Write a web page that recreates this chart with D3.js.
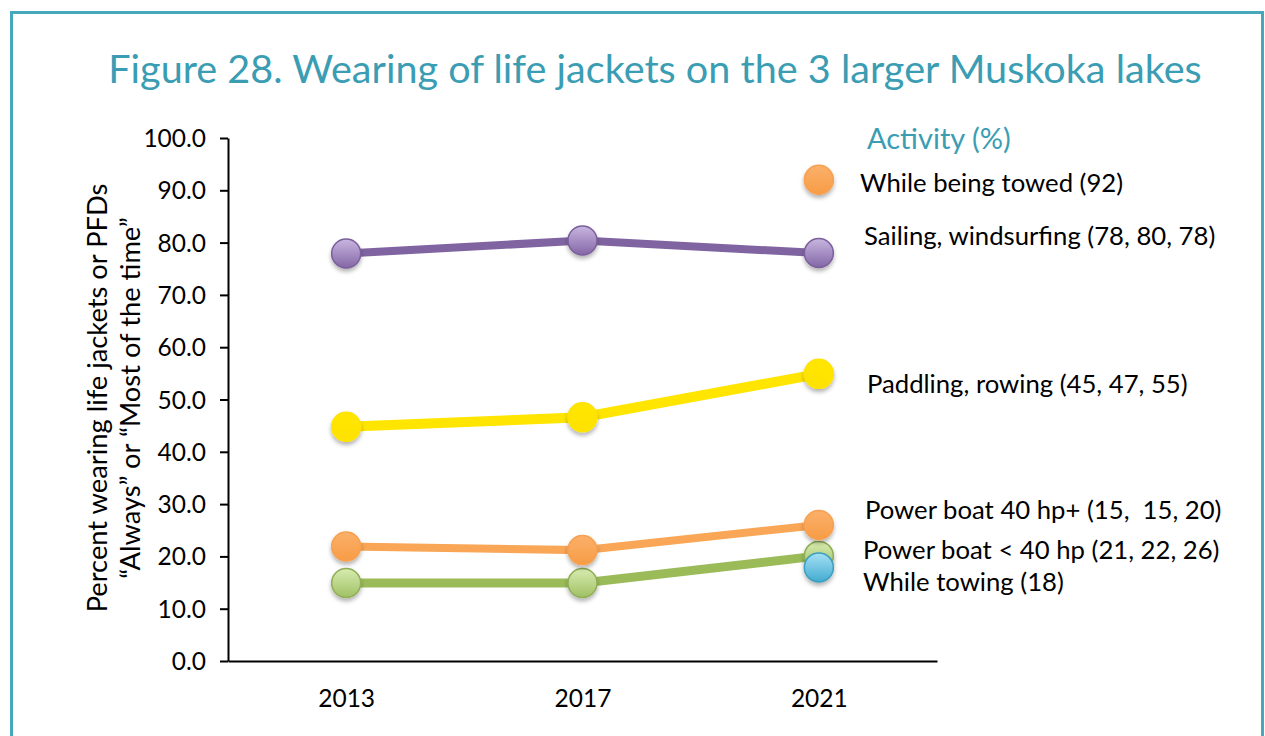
<!DOCTYPE html>
<html><head><meta charset="utf-8">
<script src="https://cdn.jsdelivr.net/npm/d3@7"></script>
<style>body{margin:0;background:#fff}svg{display:block}</style>
</head><body>
<svg id="c" width="1265" height="736"></svg>
<script>
const years = ["2013","2017","2021"];
const yTicks = [0,10,20,30,40,50,60,70,80,90,100];
const sailing = [77.9, 80.4, 78.0];
const paddling = [44.8, 46.6, 54.9];
const powerOrange = [21.9, 21.2, 26.0];
const powerGreen = [14.9, 14.9, 20.1];
const whileTowing = [null, null, 17.9];
const beingTowed = [null, null, 92];
const seriesNames = ["While being towed (92)","Sailing, windsurfing (78, 80, 78)","Paddling, rowing (45, 47, 55)","Power boat 40 hp+ (15,  15, 20)","Power boat < 40 hp (21, 22, 26)","While towing (18)"];

const svg = d3.select("#c");
const teal = "#3a9db3";
const font = "Lato, 'Open Sans', sans-serif";

// frame
svg.append("path").attr("d","M11.5,736 V12.5 H1262.5 V736").attr("fill","none").attr("stroke","#47a8bc").attr("stroke-width",3);

svg.append("text").attr("x",655).attr("y",83).attr("text-anchor","middle")
  .attr("font-family",font).attr("font-size",39.6).attr("fill",teal)
  .text("Figure 28. Wearing of life jackets on the 3 larger Muskoka lakes");

const x0 = 228, x1 = 937, yTop = 138, yBot = 661;
const x = d3.scalePoint().domain(years).range([x0,x1]).padding(0.5);
const y = d3.scaleLinear().domain([0,100]).range([yBot,yTop]);

const defs = svg.append("defs");
function grad(id, c1, c2){
  const g = defs.append("linearGradient").attr("id",id).attr("x1",0).attr("y1",0).attr("x2",0).attr("y2",1);
  g.append("stop").attr("offset","0%").attr("stop-color",c1);
  g.append("stop").attr("offset","100%").attr("stop-color",c2);
}
grad("gP","#c8b6e0","#8466a6");
grad("gY","#ffe600","#ffe200");
grad("gO","#fbb06a","#f79c46");
grad("gG","#d8ecb0","#9fc064");
grad("gB","#a6e0f5","#42acd0");
const f = defs.append("filter").attr("id","sh").attr("x","-50%").attr("y","-50%").attr("width","200%").attr("height","200%");
f.append("feDropShadow").attr("dx",0).attr("dy",3).attr("stdDeviation",2).attr("flood-color","#000").attr("flood-opacity",0.3);

// axes
const yAxis = d3.axisLeft(y).tickValues(yTicks).tickFormat(d3.format(".1f")).tickSize(8).tickSizeOuter(0);
const gy = svg.append("g").attr("transform",`translate(${x0},0)`).call(yAxis);
gy.select(".domain").attr("stroke","#000").attr("stroke-width",2);
gy.selectAll(".tick line").attr("stroke","#000").attr("stroke-width",2);
gy.selectAll(".tick text").attr("font-family",font).attr("font-size",24.5).attr("fill","#000").attr("x",-22).attr("dy","0.35em");

const xAxis = d3.axisBottom(x).tickSize(0).tickSizeOuter(0);
const gx = svg.append("g").attr("transform",`translate(0,${yBot})`).call(xAxis);
gx.select(".domain").attr("stroke","#000").attr("stroke-width",2);
gx.selectAll(".tick text").attr("font-family",font).attr("font-size",24.5).attr("fill","#000").attr("y",29).attr("dy","0.71em");

// y label
svg.append("text").attr("transform","translate(107,398) rotate(-90)").attr("text-anchor","middle").attr("font-family",font).attr("font-size",27.3).text("Percent wearing life jackets or PFDs");
svg.append("text").attr("transform","translate(140,398) rotate(-90)").attr("text-anchor","middle").attr("font-family",font).attr("font-size",27.3).text("\u201cAlways\u201d or \u201cMost of the time\u201d");

const series = [
  {vals:powerGreen, line:"#9bbb59", w:9, fill:"url(#gG)", stroke:"#8fae55"},
  {vals:powerOrange, line:"#f9a656", w:8, fill:"url(#gO)", stroke:"#f7a050"},
  {vals:paddling, line:"#ffe500", w:10, fill:"url(#gY)", stroke:"#ffe200"},
  {vals:sailing, line:"#8064a2", w:8, fill:"url(#gP)", stroke:"#7a5f9c"},
  {vals:whileTowing, line:"#4bacc6", w:8, fill:"url(#gB)", stroke:"#3e9fbf"},
  {vals:beingTowed, line:"#f9a656", w:8, fill:"url(#gO)", stroke:"#f7a050"}
];
const line = d3.line().defined(d=>d.v!=null).x(d=>x(d.year)).y(d=>y(d.v));
series.forEach(s=>{
  const pts = years.map((yr,i)=>({year:yr,v:s.vals[i]}));
  svg.append("path").datum(pts).attr("d",line).attr("fill","none").attr("stroke",s.line).attr("stroke-width",s.w);
});
series.forEach(s=>{
  const pts = years.map((yr,i)=>({year:yr,v:s.vals[i]})).filter(d=>d.v!=null);
  svg.selectAll(null).data(pts).enter().append("circle")
    .attr("cx",d=>x(d.year)).attr("cy",d=>y(d.v)).attr("r",14.5)
    .attr("fill",s.fill).attr("stroke",s.stroke).attr("stroke-width",1.5).attr("filter","url(#sh)");
});

// legend / labels
svg.append("text").attr("x",867).attr("y",149).attr("font-family",font).attr("font-size",29).attr("fill",teal).text("Activity (%)");
const labelPos = [[860,192],[864,245],[867,393],[865,519],[863,559],[863,591]];
seriesNames.forEach((n,i)=>{
  svg.append("text").attr("x",labelPos[i][0]).attr("y",labelPos[i][1]).attr("font-family",font).attr("font-size",25.7).attr("fill","#000").style("white-space","pre").text(n);
});
</script>
</body></html>
